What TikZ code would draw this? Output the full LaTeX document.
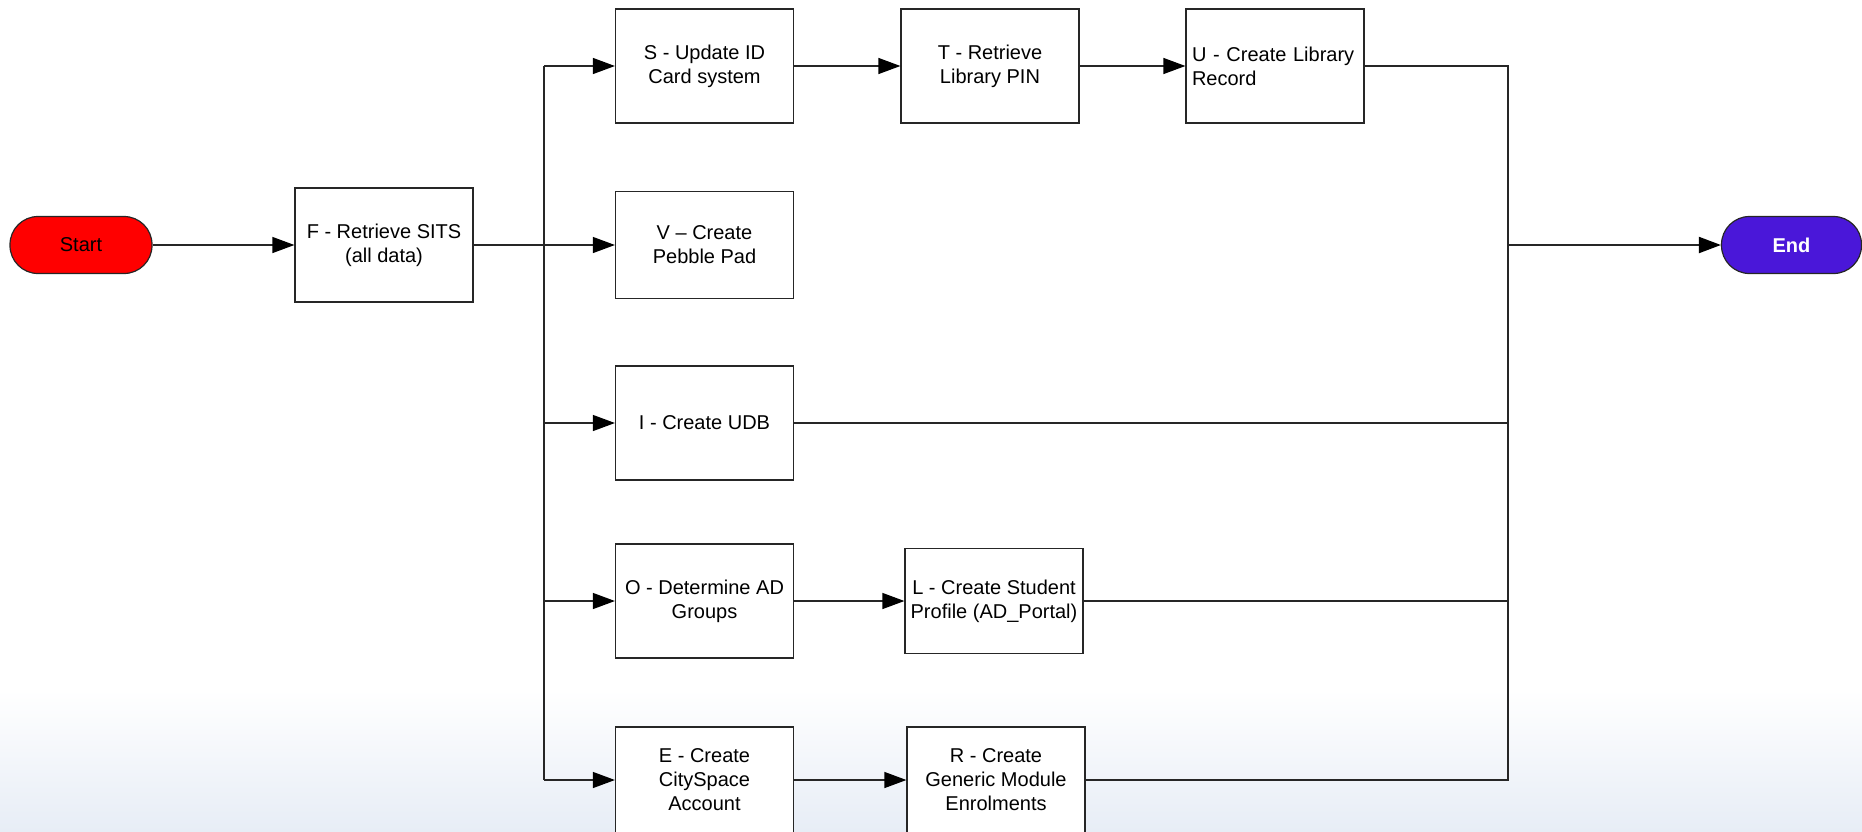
\documentclass[tikz,border=0pt]{standalone}
\usepackage{fontspec}
\setmainfont{Liberation Sans}
\usetikzlibrary{arrows.meta}
\definecolor{endblue}{RGB}{74,23,217}
\definecolor{skyblue}{RGB}{231,237,246}

\begin{document}
\begin{tikzpicture}[x=0.5pt,y=-0.5pt,
  box/.style={draw=black!85,line width=0.6pt,fill=white,minimum width=89pt,minimum height=57pt,inner sep=2pt,align=center,font=\fontsize{10}{12}\selectfont},
  term/.style={draw=black!85,line width=0.6pt,rounded corners=14pt,minimum width=71pt,minimum height=28.5pt,font=\fontsize{10}{12}\selectfont},
  link/.style={line width=0.6pt,black!85},
  arr/.style={link,-{Triangle[length=11pt,width=8pt,color=black]}}]

  \useasboundingbox (0,0) rectangle (1862,831);
  \shade[top color=white,bottom color=skyblue] (0,690) rectangle (1862,831);

  \node[term,fill=red] (start) at (81,245) {Start};
  \node[box] (F) at (384,245) {F - Retrieve SITS\\(all data)};

  \node[box] (S) at (704.5,66) {S - Update ID\\Card system};
  \node[box] (T) at (990,66) {T - Retrieve\\Library PIN};
  \node[box,text width=83pt,align=left] (U) at (1275,66) {U - Create Library\\Record};
  \node[box,minimum height=53.5pt] (V) at (704.5,245) {V -- Create\\Pebble Pad};
  \node[box] (I) at (704.5,423) {I - Create UDB};
  \node[box] (O) at (704.5,601) {O - Determine AD\\Groups};
  \node[box,minimum height=52.5pt] (L) at (994,601) {L - Create Student\\Profile (AD\_Portal)};
  \node[box,minimum height=53pt] (E) at (704.5,780) {E - Create\\CitySpace\\Account};
  \node[box,minimum height=53pt] (R) at (996,780) {R - Create\\Generic Module\\Enrolments};

  \node[term,fill=endblue,text=white,font=\fontsize{10}{12}\selectfont\bfseries,minimum width=70pt] (end) at (1791.5,245) {End};

  \coordinate (split) at (544,245);
  \coordinate (join) at (1508,245);

  \draw[arr] (start) -- (F);
  \draw[link,line width=1pt] (F) -- (split);
  \draw[link] (split |- S) -- (split |- E);

  \draw[arr] (split |- S) -- (S);
  \draw[arr] (split) -- (V);
  \draw[arr] (split |- I) -- (I);
  \draw[arr] (split |- O) -- (O);
  \draw[arr] (split |- E) -- (E);

  \draw[arr] (S) -- (T);
  \draw[arr] (T) -- (U);
  \draw[arr] (O) -- (L);
  \draw[arr] (E) -- (R);

  \draw[link] (U) -- (join |- U) -- (join |- R) -- (R);
  \draw[link] (I) -- (join |- I);
  \draw[link] (L) -- (join |- L);
  \draw[arr,line width=1pt] (join) -- (end);

\end{tikzpicture}
\end{document}
